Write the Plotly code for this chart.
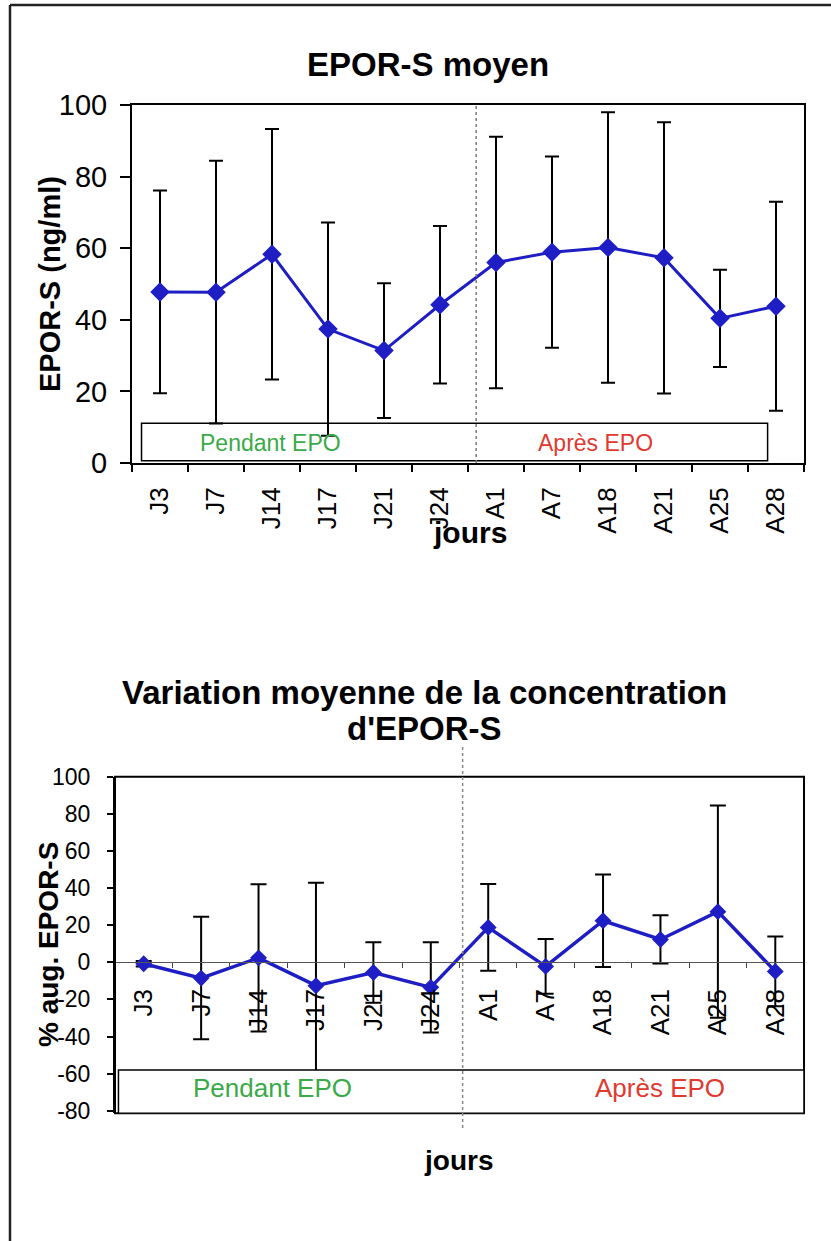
import plotly.graph_objects as go

# Jours de prélèvement (J = pendant EPO, A = après EPO)
jours = ["J3", "J7", "J14", "J17", "J21", "J24", "A1", "A7", "A18", "A21", "A25", "A28"]

# EPOR-S moyen (ng/ml) et écart-type
epor_moyen = [47.8, 47.7, 58.3, 37.4, 31.4, 44.2, 56.0, 58.9, 60.2, 57.3, 40.4, 43.8]
epor_sd = [28.3, 36.7, 35.0, 29.8, 18.8, 22.0, 35.1, 26.7, 37.8, 37.9, 13.6, 29.2]

# Variation moyenne de la concentration d'EPOR-S (%) et écart-type
var_moyenne = [-0.8, -8.5, 2.4, -12.6, -5.5, -13.5, 18.8, -2.2, 22.4, 12.3, 27.3, -4.9]
var_sd = [1.5, 33.0, 39.7, 55.4, 16.3, 24.3, 23.4, 14.8, 24.9, 13.0, 57.2, 18.8]

# Graduations des axes verticaux
ticks_epor = [0, 20, 40, 60, 80, 100]
ticks_var = [-80, -60, -40, -20, 0, 20, 40, 60, 80, 100]

W, H = 831, 1241
FONT = "Liberation Sans, Arial, sans-serif"
BLEU = "#1e1ec4"
VERT = "#3aaa48"
ROUGE = "#e03a30"

x_idx = list(range(len(jours)))
bornes = [i - 0.5 for i in range(len(jours) + 1)]


def px_x(p):
    return p / W


def px_y(p):
    return 1 - p / H


def texte(txt, x, y, size, color="black", angle=0, xref="paper", yref="paper"):
    return dict(text=txt, xref=xref, yref=yref, x=x, y=y, textangle=angle,
                xanchor="center", yanchor="middle", showarrow=False,
                font=dict(size=size, color=color))


fig = go.Figure()

fig.add_trace(go.Scatter(
    x=x_idx, y=epor_moyen, mode="lines+markers",
    line=dict(color=BLEU, width=3),
    marker=dict(symbol="diamond", size=15, color=BLEU),
    error_y=dict(type="data", array=epor_sd, visible=True,
                 color="black", thickness=2, width=7),
    xaxis="x", yaxis="y", showlegend=False,
))

fig.add_trace(go.Scatter(
    x=x_idx, y=var_moyenne, mode="lines+markers",
    line=dict(color=BLEU, width=3.5),
    marker=dict(symbol="diamond", size=13, color=BLEU),
    error_y=dict(type="data", array=var_sd, visible=True,
                 color="black", thickness=2, width=8),
    xaxis="x2", yaxis="y2", showlegend=False,
))

shapes = [
    # cadre de la page
    dict(type="line", xref="paper", yref="paper",
         x0=px_x(10), x1=px_x(10), y0=0, y1=px_y(5),
         line=dict(color="#222", width=2.5)),
    dict(type="line", xref="paper", yref="paper",
         x0=px_x(10), x1=1, y0=px_y(5), y1=px_y(5),
         line=dict(color="#222", width=2.5)),
    # graphique 1 : encadré des périodes
    dict(type="rect", xref="x", yref="y", x0=-0.33, x1=10.85, y0=0.64, y1=11.1,
         line=dict(color="black", width=1.5), fillcolor="rgba(0,0,0,0)"),
    dict(type="line", xref="x", yref="y", x0=5.646, x1=5.646, y0=0, y1=100,
         line=dict(color="#777", width=1.5, dash="dot")),
    # graphique 2 : cadre, encadré des périodes, séparation
    dict(type="rect", xref="x2 domain", yref="y2 domain", x0=0, x1=1, y0=0, y1=1,
         line=dict(color="black", width=2)),
    dict(type="rect", xref="x2", yref="y2", x0=-0.44, x1=11.5, y0=-81.3, y1=-58,
         line=dict(color="black", width=1.5), fillcolor="white", layer="above"),
    dict(type="line", xref="x2", yref="paper", x0=5.555, x1=5.555,
         y0=px_y(1128), y1=px_y(745),
         line=dict(color="#888", width=1.5, dash="dot")),
]

annotations = [
    texte("<b>EPOR-S moyen</b>", px_x(428), px_y(65), 33),
    texte("<b>EPOR-S (ng/ml)</b>", px_x(50), px_y(284), 29, angle=-90),
    texte("<b>jours</b>", px_x(470), px_y(533), 30),
    texte("Pendant EPO", 1.97, 5.6, 23, VERT, xref="x", yref="y"),
    texte("Après EPO", 7.77, 5.6, 23, ROUGE, xref="x", yref="y"),
    texte("<b>Variation moyenne de la concentration</b>", px_x(424), px_y(692), 33),
    texte("<b>d'EPOR-S</b>", px_x(424), px_y(728), 33),
    texte("<b>% aug. EPOR-S</b>", px_x(48), px_y(945), 28, angle=-90),
    texte("<b>jours</b>", px_x(458), px_y(1160), 28),
    texte("Pendant EPO", 2.24, -67.5, 26, VERT, xref="x2", yref="y2"),
    texte("Après EPO", 8.99, -67.5, 26, ROUGE, xref="x2", yref="y2"),
]

fig.update_layout(
    width=W, height=H,
    margin=dict(l=0, r=0, t=0, b=0, pad=0, autoexpand=False),
    paper_bgcolor="white", plot_bgcolor="white",
    font=dict(family=FONT, color="black"),
    showlegend=False,
    xaxis=dict(
        domain=[px_x(132), px_x(804)], anchor="y", automargin=False,
        range=[-0.5, 11.5], tickmode="array", tickvals=x_idx, ticktext=jours,
        tickangle=-90, ticks="", ticklabelstandoff=12,
        tickfont=dict(size=26),
        minor=dict(tickmode="array", tickvals=bornes, ticks="outside",
                   ticklen=7, tickwidth=1.5, tickcolor="black"),
        showline=True, linecolor="black", linewidth=2, mirror=True,
        showgrid=False, zeroline=False,
    ),
    yaxis=dict(
        domain=[px_y(463), px_y(105)], anchor="x", automargin=False,
        range=[0, 100], tickmode="array", tickvals=ticks_epor,
        ticktext=[str(v) for v in ticks_epor],
        ticks="outside", ticklen=10, tickwidth=1.5, tickcolor="black",
        ticklabelstandoff=7, tickfont=dict(size=29),
        showline=True, linecolor="black", linewidth=2, mirror=True,
        showgrid=False, zeroline=False,
    ),
    xaxis2=dict(
        domain=[px_x(115), px_x(804)], anchor="free", position=px_y(961.7),
        automargin=False,
        range=[-0.5, 11.5], tickmode="array", tickvals=x_idx, ticktext=jours,
        tickangle=-90, ticks="", ticklabelstandoff=16,
        tickfont=dict(size=26),
        minor=dict(tickmode="array", tickvals=bornes, ticks="outside",
                   ticklen=5, tickwidth=1, tickcolor="#444"),
        showline=True, linecolor="#555", linewidth=1,
        showgrid=False, zeroline=False,
    ),
    yaxis2=dict(
        domain=[px_y(1113.2), px_y(776.7)], anchor="x2", automargin=False,
        range=[-81.3, 100], tickmode="array", tickvals=ticks_var,
        ticktext=[str(v) for v in ticks_var],
        ticks="outside", ticklen=6, tickwidth=1.5, tickcolor="black",
        ticklabelstandoff=12, tickfont=dict(size=23),
        showline=True, linecolor="black", linewidth=2,
        showgrid=False, zeroline=False,
    ),
    shapes=shapes,
    annotations=annotations,
)

fig.write_html("out.html")
